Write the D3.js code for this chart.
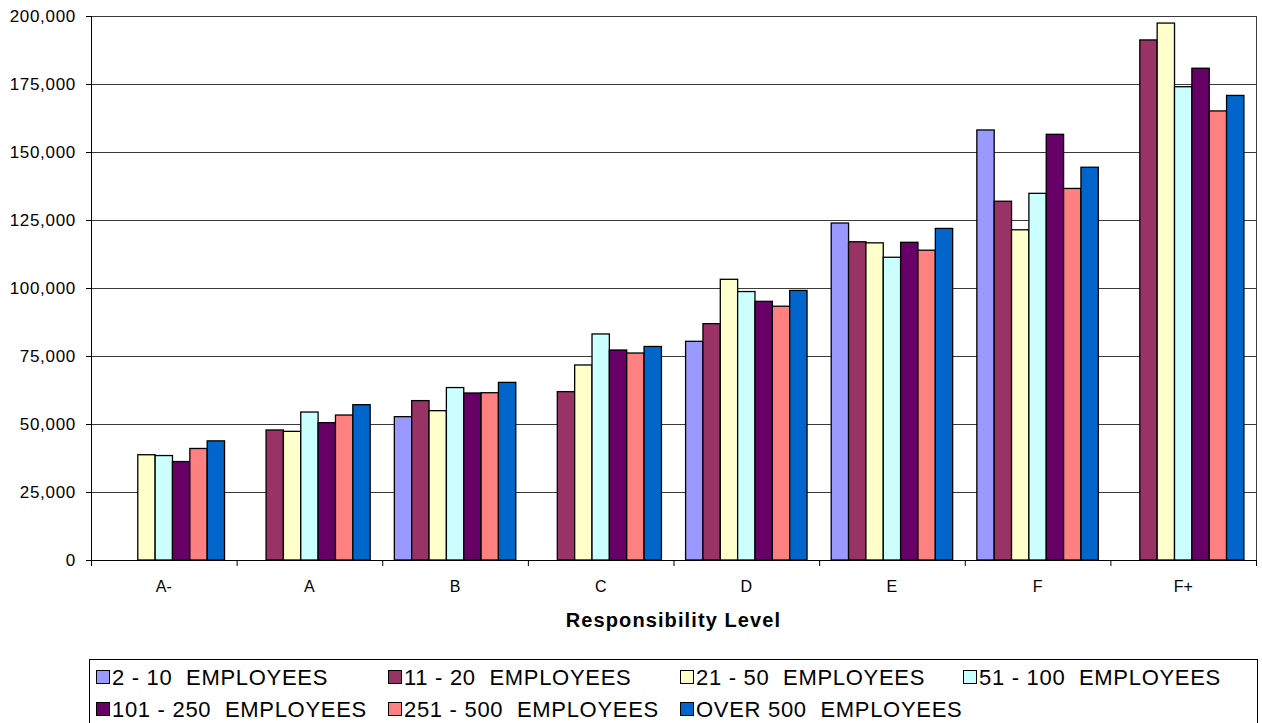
<!DOCTYPE html>
<html>
<head>
<meta charset="utf-8">
<script src="https://cdn.jsdelivr.net/npm/d3@7"></script>
<style>
  body { margin: 0; background: #fff; }
  text { font-family: "Liberation Sans", Arial, sans-serif; fill: #000; }
</style>
</head>
<body>
<div id="chart"></div>
<script>
// categories and series
var levels = ["A-", "A", "B", "C", "D", "E", "F", "F+"];
var seriesNames = ["2 - 10  EMPLOYEES", "11 - 20  EMPLOYEES", "21 - 50  EMPLOYEES", "51 - 100  EMPLOYEES",
                   "101 - 250  EMPLOYEES", "251 - 500  EMPLOYEES", "OVER 500  EMPLOYEES"];
var seriesColors = ["#9999FF", "#993366", "#FFFFCC", "#CCFFFF", "#660066", "#FF8080", "#0066CC"];

var emp2to10    = [null, null, 52700, null, 80400, 123900, 158100, null];
var emp11to20   = [null, 47800, 58600, 61900, 86900, 117000, 131900, 191200];
var emp21to50   = [38700, 47300, 54900, 71700, 103200, 116600, 121400, 197400];
var emp51to100  = [38400, 54400, 63400, 83100, 98700, 111300, 134800, 174000];
var emp101to250 = [36200, 50500, 61400, 77200, 95100, 116800, 156500, 180800];
var emp251to500 = [41000, 53300, 61500, 76100, 93300, 113900, 136600, 165100];
var empOver500  = [43800, 57100, 65300, 78500, 99100, 121900, 144400, 170800];

var yTicks = [0, 25000, 50000, 75000, 100000, 125000, 150000, 175000, 200000];
var xTitle = "Responsibility Level";

var allSeries = [emp2to10, emp11to20, emp21to50, emp51to100, emp101to250, emp251to500, empOver500];

(function() {
var W = 1262, H = 723;
var pLeft = 91, pRight = 1256, pTop = 16, pBottom = 560;

var svg = d3.select("#chart").append("svg")
    .attr("width", W).attr("height", H)
    .attr("xmlns", "http://www.w3.org/2000/svg");

// scales
var x = d3.scaleBand().domain(levels).range([pLeft, pRight])
    .paddingInner(0.166).paddingOuter(0.083);
var xs = d3.scaleBand().domain(d3.range(seriesNames.length)).range([0, x.bandwidth()]);
var y = d3.scaleLinear().domain([0, 200000]).range([pBottom, pTop]);
var xb = d3.scaleLinear().domain([0, levels.length]).range([pLeft, pRight]);

// gridlines
svg.append("g").selectAll("line").data(yTicks.slice(1)).enter().append("line")
    .attr("x1", pLeft).attr("x2", pRight)
    .attr("y1", function(d) { return Math.round(y(d)) + 0.5; })
    .attr("y2", function(d) { return Math.round(y(d)) + 0.5; })
    .attr("stroke", "#3a3a3a").attr("stroke-width", 1);

// plot border right side
svg.append("line").attr("x1", pRight + 0.5).attr("x2", pRight + 0.5).attr("y1", pTop).attr("y2", pBottom)
    .attr("stroke", "#3a3a3a").attr("stroke-width", 1);

// bars
var groups = svg.append("g").selectAll("g").data(allSeries).enter().append("g")
    .attr("fill", function(d, i) { return seriesColors[i]; });
groups.each(function(vals, si) {
    d3.select(this).selectAll("rect")
        .data(vals.map(function(v, ci) { return { v: v, c: levels[ci] }; })
                  .filter(function(d) { return d.v != null; }))
        .enter().append("rect")
        .attr("x", function(d) { return x(d.c) + xs(si); })
        .attr("width", xs.bandwidth())
        .attr("y", function(d) { return y(d.v); })
        .attr("height", function(d) { return y(0) - y(d.v); })
        .attr("stroke", "#000").attr("stroke-width", 1.3);
});

// y axis
var yAxis = svg.append("g").attr("transform", "translate(" + pLeft + ",0)")
    .call(d3.axisLeft(y).tickValues(yTicks).tickSize(5).tickPadding(10)
        .tickFormat(d3.format(",")));
yAxis.attr("font-family", null).attr("font-size", null);
yAxis.selectAll("text").style("font-size", "17px").style("letter-spacing", "0.7px");
yAxis.selectAll("line, path").attr("stroke", "#000");
yAxis.select(".domain").attr("d", "M0.5," + pTop + "V" + pBottom);

// x axis: boundary ticks and labels
var xAxis = svg.append("g").attr("transform", "translate(0," + pBottom + ")")
    .call(d3.axisBottom(xb).tickValues(d3.range(levels.length + 1)).tickSize(6).tickFormat(""));
xAxis.selectAll("line, path").attr("stroke", "#000");
xAxis.select(".domain").attr("d", "M" + pLeft + ",0.5H" + pRight);

var xLab = svg.append("g").attr("transform", "translate(0," + pBottom + ")")
    .call(d3.axisBottom(x).tickSize(0).tickPadding(21));
xLab.attr("font-family", null).attr("font-size", null);
xLab.select(".domain").remove();
xLab.selectAll("text").style("font-size", "16px");

// axis title
svg.append("text").attr("x", (pLeft + pRight) / 2).attr("y", 627)
    .attr("text-anchor", "middle")
    .style("font-size", "20px").style("font-weight", "bold").style("letter-spacing", "1.1px")
    .text(xTitle);

// legend
var legend = svg.append("g");
legend.append("rect").attr("x", 89.5).attr("y", 659.5).attr("width", 1168).attr("height", 80)
    .attr("fill", "#fff").attr("stroke", "#000").attr("stroke-width", 1);

var colX = [96, 388, 680, 963];
var rowY = [685, 717];
var items = legend.selectAll("g.item").data(seriesNames).enter().append("g")
    .attr("class", "item")
    .attr("transform", function(d, i) {
        return "translate(" + colX[i % 4] + "," + rowY[Math.floor(i / 4)] + ")";
    });
items.append("rect").attr("x", 0.5).attr("y", -14.5).attr("width", 13).attr("height", 13)
    .attr("fill", function(d, i) { return seriesColors[i]; })
    .attr("stroke", "#000").attr("stroke-width", 1);
items.append("text").attr("x", 16).attr("y", 0)
    .attr("xml:space", "preserve").style("white-space", "pre")
    .style("font-size", "22px").style("letter-spacing", "0.7px")
    .text(function(d) { return d; });
})();
</script>
</body>
</html>
